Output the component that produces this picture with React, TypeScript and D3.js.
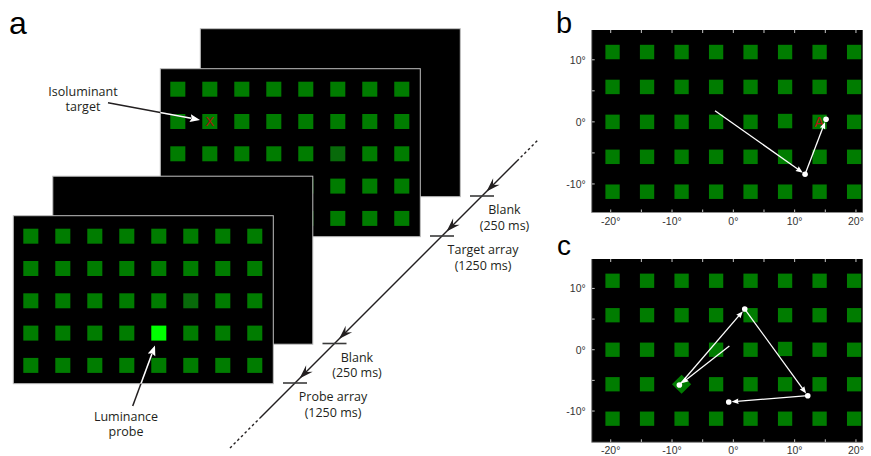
import * as d3 from "d3";
import React, { useEffect, useRef } from "react";

// panel a: stimulus sequence, back screen first
const screenNames = ["Blank", "Target array", "Blank", "Probe array"];
const screenDurations = ["(250 ms)", "(1250 ms)", "(250 ms)", "(1250 ms)"];
const screenHasArray = [false, true, false, true];

// 8 x 5 array of squares, in degrees of visual angle
const gridCols = [-19.7, -14.07, -8.44, -2.81, 2.81, 8.44, 14.07, 19.7];
const gridRows = [11.25, 5.63, 0, -5.63, -11.25];
const squareSize = 2.33;

// special cells (column, row)
const isoTargetCell = [1, 1];
const probeCell = [4, 3];
const dimCell = [5, 2];
const targetCellB = [6, 2];
const diamondCellC = [2, 3];

// eye traces, degrees (first point = start, no dot)
const traceB = [
  [-2.99, 1.8],
  [11.7, -8.44],
  [15.12, 0.42],
];
const traceC = [
  [-0.65, 0.6],
  [-8.8, -5.76],
  [1.86, 6.64],
  [12.14, -7.5],
  [-0.75, -8.53],
];

const xTicks = [-20, -15, -10, -5, 0, 5, 10, 15, 20];
const xTickLabels = ["-20°", "", "-10°", "", "0°", "", "10°", "", "20°"];
const yTicks = [-10, -5, 0, 5, 10];
const yTickLabels = ["-10°", "", "0°", "", "10°"];

const textFont = "'Open Sans', sans-serif";
const axisFont = "'Liberation Sans', Arial, sans-serif";
const green = "#007c00";

function arrowHead(tip: number[], angle: number, len: number, half: number, notch = 0) {
  const ca = Math.cos(angle);
  const sa = Math.sin(angle);
  const pt = (a: number, b: number) => [tip[0] + a * ca - b * sa, tip[1] + a * sa + b * ca];
  const pts = [pt(0, 0), pt(-len, -half), pt(-len * (1 - notch), 0), pt(-len, half)];
  return "M" + pts.map((p) => p.join(",")).join("L") + "Z";
}

const App = () => {
  const node = useRef<SVGSVGElement>(null);

  useEffect(() => {
    const svg = d3.select(node.current);
    svg.selectAll("*").remove();

    // ---------- panel a ----------
    const screenW = 260;
    const screenH = 168;
    const front = { x: 13.3, y: 215.7 };
    const depth = [187, 147, 39.5, 0];
    const colBand = d3
      .scaleBand<number>()
      .domain(d3.range(gridCols.length))
      .range([10, 249])
      .paddingInner(0.53);
    const rowBand = d3
      .scaleBand<number>()
      .domain(d3.range(gridRows.length))
      .range([13, 157.2])
      .paddingInner(0.536);
    const cells = d3.cross(d3.range(gridCols.length), d3.range(gridRows.length));
    const same = (c: number[], d: number[]) => c[0] === d[0] && c[1] === d[1];

    const defs = svg.append("defs");
    screenNames.forEach((name, i) => {
      const sx = front.x + depth[i];
      const sy = front.y - depth[i];
      defs
        .append("clipPath")
        .attr("id", "screen" + i)
        .append("rect")
        .attr("x", sx)
        .attr("y", sy)
        .attr("width", screenW)
        .attr("height", screenH);
      const g = svg.append("g").attr("transform", `translate(${sx},${sy})`);
      g.append("rect")
        .attr("width", screenW)
        .attr("height", screenH)
        .attr("fill", "#000")
        .attr("stroke", "#c0c0c0")
        .attr("stroke-width", 1);
      if (!screenHasArray[i]) return;
      const isProbe = name.startsWith("Probe");
      g.selectAll("rect.sq")
        .data(cells)
        .join("rect")
        .attr("class", "sq")
        .attr("x", (d) => colBand(d[0])!)
        .attr("y", (d) => rowBand(d[1])!)
        .attr("width", colBand.bandwidth())
        .attr("height", rowBand.bandwidth())
        .attr("fill", (d) =>
          isProbe && same(d, probeCell) ? "#00ff00" : same(d, dimCell) ? "#086a0a" : green
        );
      if (!isProbe) {
        g.append("text")
          .attr("x", colBand(isoTargetCell[0])! + colBand.bandwidth() / 2)
          .attr("y", rowBand(isoTargetCell[1])! + rowBand.bandwidth() / 2 + 4.8)
          .attr("text-anchor", "middle")
          .attr("font-family", axisFont)
          .attr("font-size", 13.5)
          .attr("fill", "#a81010")
          .text("X");
      }
    });

    // pointer arrows: black outside the screen, white inside it
    const pointer = (from: number[], tip: number[], clipId: string) => {
      const ang = Math.atan2(tip[1] - from[1], tip[0] - from[0]);
      const base = [tip[0] - 9 * Math.cos(ang), tip[1] - 9 * Math.sin(ang)];
      [
        ["#231f20", null],
        ["#fff", clipId],
      ].forEach(([col, clip]) => {
        const g = svg.append("g");
        if (clip) g.attr("clip-path", `url(#${clip})`);
        g.append("line")
          .attr("x1", from[0])
          .attr("y1", from[1])
          .attr("x2", base[0])
          .attr("y2", base[1])
          .attr("stroke", col as string)
          .attr("stroke-width", 1.5);
        g.append("path").attr("d", arrowHead(tip, ang, 10, 4, 0.15)).attr("fill", col as string);
      });
    };
    pointer([108, 102.7], [200, 120], "screen1");
    pointer([132.7, 406], [155, 345.5], "screen3");

    const note = (x: number, y: number, t: string) =>
      svg
        .append("text")
        .attr("x", x)
        .attr("y", y)
        .attr("text-anchor", "middle")
        .attr("font-family", textFont)
        .attr("font-size", 12.5)
        .attr("fill", "#231f20")
        .text(t);
    note(83, 95.5, "Isoluminant");
    note(83, 111, "target");
    note(126, 420.5, "Luminance");
    note(126, 436, "probe");

    // time line along the diagonal
    const tick0 = { x: 295, y: 383 };
    const along = (t: number) => [tick0.x + t, tick0.y - t];
    const seg = (t0: number, t1: number, dash: string | null) => {
      const a = along(t0);
      const b = along(t1);
      svg
        .append("line")
        .attr("x1", a[0])
        .attr("y1", a[1])
        .attr("x2", b[0])
        .attr("y2", b[1])
        .attr("stroke", "#231f20")
        .attr("stroke-width", 1.4)
        .attr("stroke-dasharray", dash);
    };
    seg(-65, -35, "2.6,2.6");
    seg(-35, 222, null);
    seg(222, 243, "2.6,2.6");
    screenNames.forEach((name, i) => {
      const d = depth[i];
      const c = along(d);
      svg
        .append("line")
        .attr("x1", c[0] - 12)
        .attr("x2", c[0] + 12)
        .attr("y1", c[1])
        .attr("y2", c[1])
        .attr("stroke", "#3a3a3a")
        .attr("stroke-width", 1.6);
      svg
        .append("path")
        .attr("d", arrowHead(along(d + 4.5), (3 * Math.PI) / 4, 14, 4.6, 0.35))
        .attr("fill", "#231f20");
      const dx = screenHasArray[i] ? (name.startsWith("Target") ? 41 : 38) : 22.5;
      note(c[0] + dx, c[1] + 18, name);
      note(c[0] + dx, c[1] + 33.5, screenDurations[i]);
    });

    const panelLabel = (x: number, y: number, size: number, t: string) =>
      svg
        .append("text")
        .attr("x", x)
        .attr("y", y)
        .attr("font-family", axisFont)
        .attr("font-size", size)
        .attr("fill", "#000")
        .text(t);
    panelLabel(9, 34, 32, "a");
    panelLabel(556, 33.3, 29, "b");
    panelLabel(557, 255, 28, "c");

    // ---------- panels b and c ----------
    const fx = d3.scaleLinear().domain([-23.1, 21.1]).range([591.7, 862.7]);
    const field = (
      top: number,
      bottom: number,
      yDomain: number[],
      trace: number[][],
      letterCell: number[] | null,
      diamondCell: number[] | null
    ) => {
      const fy = d3.scaleLinear().domain(yDomain).range([bottom, top]);
      const [x0, x1] = fx.range();
      const g = svg.append("g");
      g.append("rect")
        .attr("x", x0)
        .attr("y", top)
        .attr("width", x1 - x0)
        .attr("height", bottom - top)
        .attr("fill", "#000");
      const w = fx(squareSize) - fx(0);
      const h = fy(0) - fy(squareSize);
      g.selectAll("rect.sq")
        .data(cells.filter((c) => !(diamondCell && same(c, diamondCell))))
        .join("rect")
        .attr("class", "sq")
        .attr("x", (d) => fx(gridCols[d[0]]) - w / 2)
        .attr("y", (d) => fy(gridRows[d[1]]) - h / 2 - (same(d, dimCell) ? 0.8 : 0))
        .attr("width", w)
        .attr("height", h)
        .attr("fill", green);
      if (diamondCell) {
        g.append("rect")
          .attr(
            "transform",
            `translate(${fx(gridCols[diamondCell[0]])},${fy(gridRows[diamondCell[1]])}) rotate(45)`
          )
          .attr("x", -6.8)
          .attr("y", -6.8)
          .attr("width", 13.6)
          .attr("height", 13.6)
          .attr("fill", green);
      }
      if (letterCell) {
        g.append("text")
          .attr("x", fx(gridCols[letterCell[0]]) - 0.5)
          .attr("y", fy(gridRows[letterCell[1]]) + 5.2)
          .attr("text-anchor", "middle")
          .attr("font-family", axisFont)
          .attr("font-size", 14.5)
          .attr("fill", "#b41414")
          .text("A");
      }

      // ticks pointing in, light on black
      xTicks.forEach((t) => {
        [
          [top, top + 3],
          [bottom, bottom - 3],
        ].forEach(([a, b]) =>
          g.append("line")
            .attr("x1", fx(t))
            .attr("x2", fx(t))
            .attr("y1", a)
            .attr("y2", b)
            .attr("stroke", "#c8c8c8")
            .attr("stroke-width", 1)
        );
      });
      yTicks.forEach((t) =>
        g.append("line")
          .attr("x1", x0)
          .attr("x2", x0 + 3)
          .attr("y1", fy(t))
          .attr("y2", fy(t))
          .attr("stroke", "#c8c8c8")
          .attr("stroke-width", 1)
      );
      g.append("path")
        .attr("d", `M${x0},${top}V${bottom}H${x1}`)
        .attr("fill", "none")
        .attr("stroke", "#8c8c8c")
        .attr("stroke-width", 1);
      xTicks.forEach((t, i) => {
        if (!xTickLabels[i]) return;
        g.append("text")
          .attr("x", fx(t))
          .attr("y", bottom + 12)
          .attr("text-anchor", "middle")
          .attr("font-family", axisFont)
          .attr("font-size", 10.5)
          .attr("fill", "#333")
          .text(xTickLabels[i]);
      });
      yTicks.forEach((t, i) => {
        if (!yTickLabels[i]) return;
        g.append("text")
          .attr("x", x0 - 6)
          .attr("y", fy(t) + 3.8)
          .attr("text-anchor", "end")
          .attr("font-family", axisFont)
          .attr("font-size", 10.5)
          .attr("fill", "#333")
          .text(yTickLabels[i]);
      });

      // eye trace
      const pts = trace.map((p) => [fx(p[0]), fy(p[1])]);
      const r = 2.8;
      for (let i = 1; i < pts.length; i++) {
        const a = pts[i - 1];
        const b = pts[i];
        const ang = Math.atan2(b[1] - a[1], b[0] - a[0]);
        const tip = [b[0] - r * Math.cos(ang), b[1] - r * Math.sin(ang)];
        g.append("line")
          .attr("x1", a[0])
          .attr("y1", a[1])
          .attr("x2", tip[0] - 5 * Math.cos(ang))
          .attr("y2", tip[1] - 5 * Math.sin(ang))
          .attr("stroke", "#fff")
          .attr("stroke-width", 1.3);
        g.append("path").attr("d", arrowHead(tip, ang, 7, 2.8, 0.1)).attr("fill", "#fff");
      }
      g.selectAll("circle")
        .data(pts.slice(1))
        .join("circle")
        .attr("cx", (d) => d[0])
        .attr("cy", (d) => d[1])
        .attr("r", r)
        .attr("fill", "#fff");
    };
    field(30, 212.5, [-14.6, 14.8], traceB, targetCellB, null);
    field(259, 442.3, [-15.1, 14.8], traceC, null, diamondCellC);
  }, []);

  return (
    <svg
      ref={node}
      width={871}
      height={456}
      style={{ position: "absolute", left: 0, top: 0, background: "#fff" }}
    />
  );
};

export default App;
